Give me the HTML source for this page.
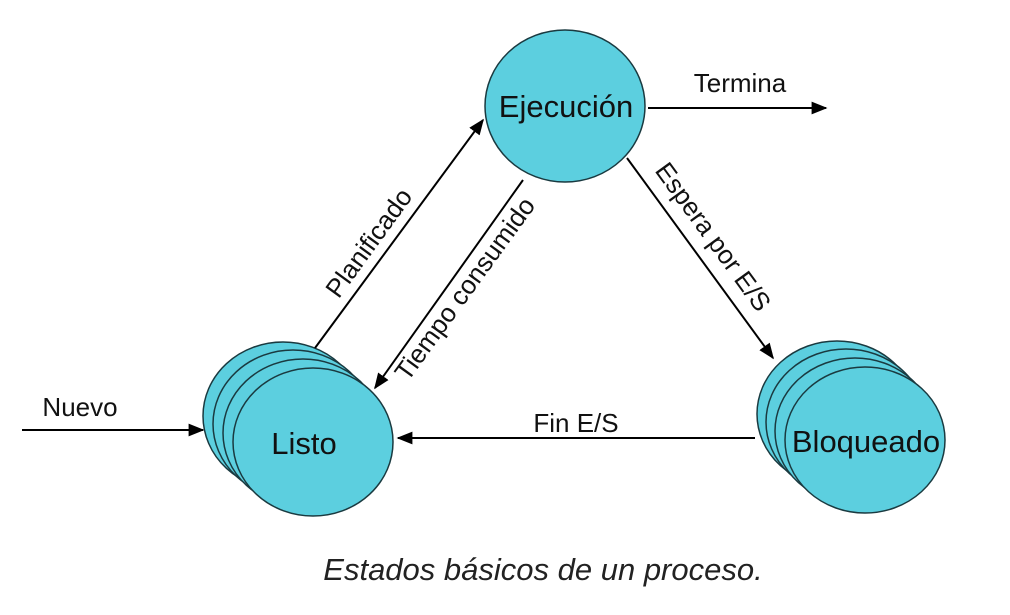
<!DOCTYPE html>
<html><head><style>body{margin:0;background:#fff}</style></head><body>
<svg width="1010" height="610" xmlns="http://www.w3.org/2000/svg" font-family="Liberation Sans, Arial, sans-serif">
<defs><marker id="b" viewBox="0 0 10 10" refX="9" refY="5" markerWidth="16" markerHeight="16" orient="auto" markerUnits="userSpaceOnUse"><path d="M0,1L10,5L0,9z" fill="#000"/></marker></defs>
<g fill="#5ccfdf" stroke="#1a3a40" stroke-width="1.5">
<ellipse cx="283" cy="416" rx="80" ry="74"/><ellipse cx="293" cy="424" rx="80" ry="74"/><ellipse cx="303" cy="433" rx="80" ry="74"/><ellipse cx="313" cy="442" rx="80" ry="74"/>
<ellipse cx="837" cy="414" rx="80" ry="73"/><ellipse cx="846" cy="422" rx="80" ry="73"/><ellipse cx="855" cy="431" rx="80" ry="73"/><ellipse cx="865" cy="440" rx="80" ry="73"/>
<ellipse cx="565" cy="106" rx="80" ry="76"/>
</g>
<g stroke="#000" stroke-width="2" fill="none" marker-end="url(#b)">
<line x1="315" y1="348" x2="483" y2="120"/>
<line x1="523" y1="180" x2="375" y2="388"/>
<line x1="627" y1="158" x2="773" y2="358"/>
<line x1="755" y1="438" x2="398" y2="438"/>
<line x1="22" y1="430" x2="203" y2="430"/>
<line x1="648" y1="108" x2="826" y2="108"/>
</g>
<g font-size="31" text-anchor="middle" fill="#111">
<text x="566" y="117">Ejecución</text>
<text x="304" y="454">Listo</text>
<text x="866" y="452">Bloqueado</text>
</g>
<g font-size="26" text-anchor="middle" fill="#111">
<text x="740" y="92">Termina</text>
<text x="80" y="416">Nuevo</text>
<text x="576" y="432">Fin E/S</text>
<text transform="translate(376,248) rotate(-54)">Planificado</text>
<text transform="translate(472,294) rotate(-54)">Tiempo consumido</text>
<text transform="translate(706,242) rotate(54)">Espera por E/S</text>
</g>
<text x="543" y="580" font-size="31" font-style="italic" text-anchor="middle" fill="#222">Estados básicos de un proceso.</text>
</svg>
</body></html>
